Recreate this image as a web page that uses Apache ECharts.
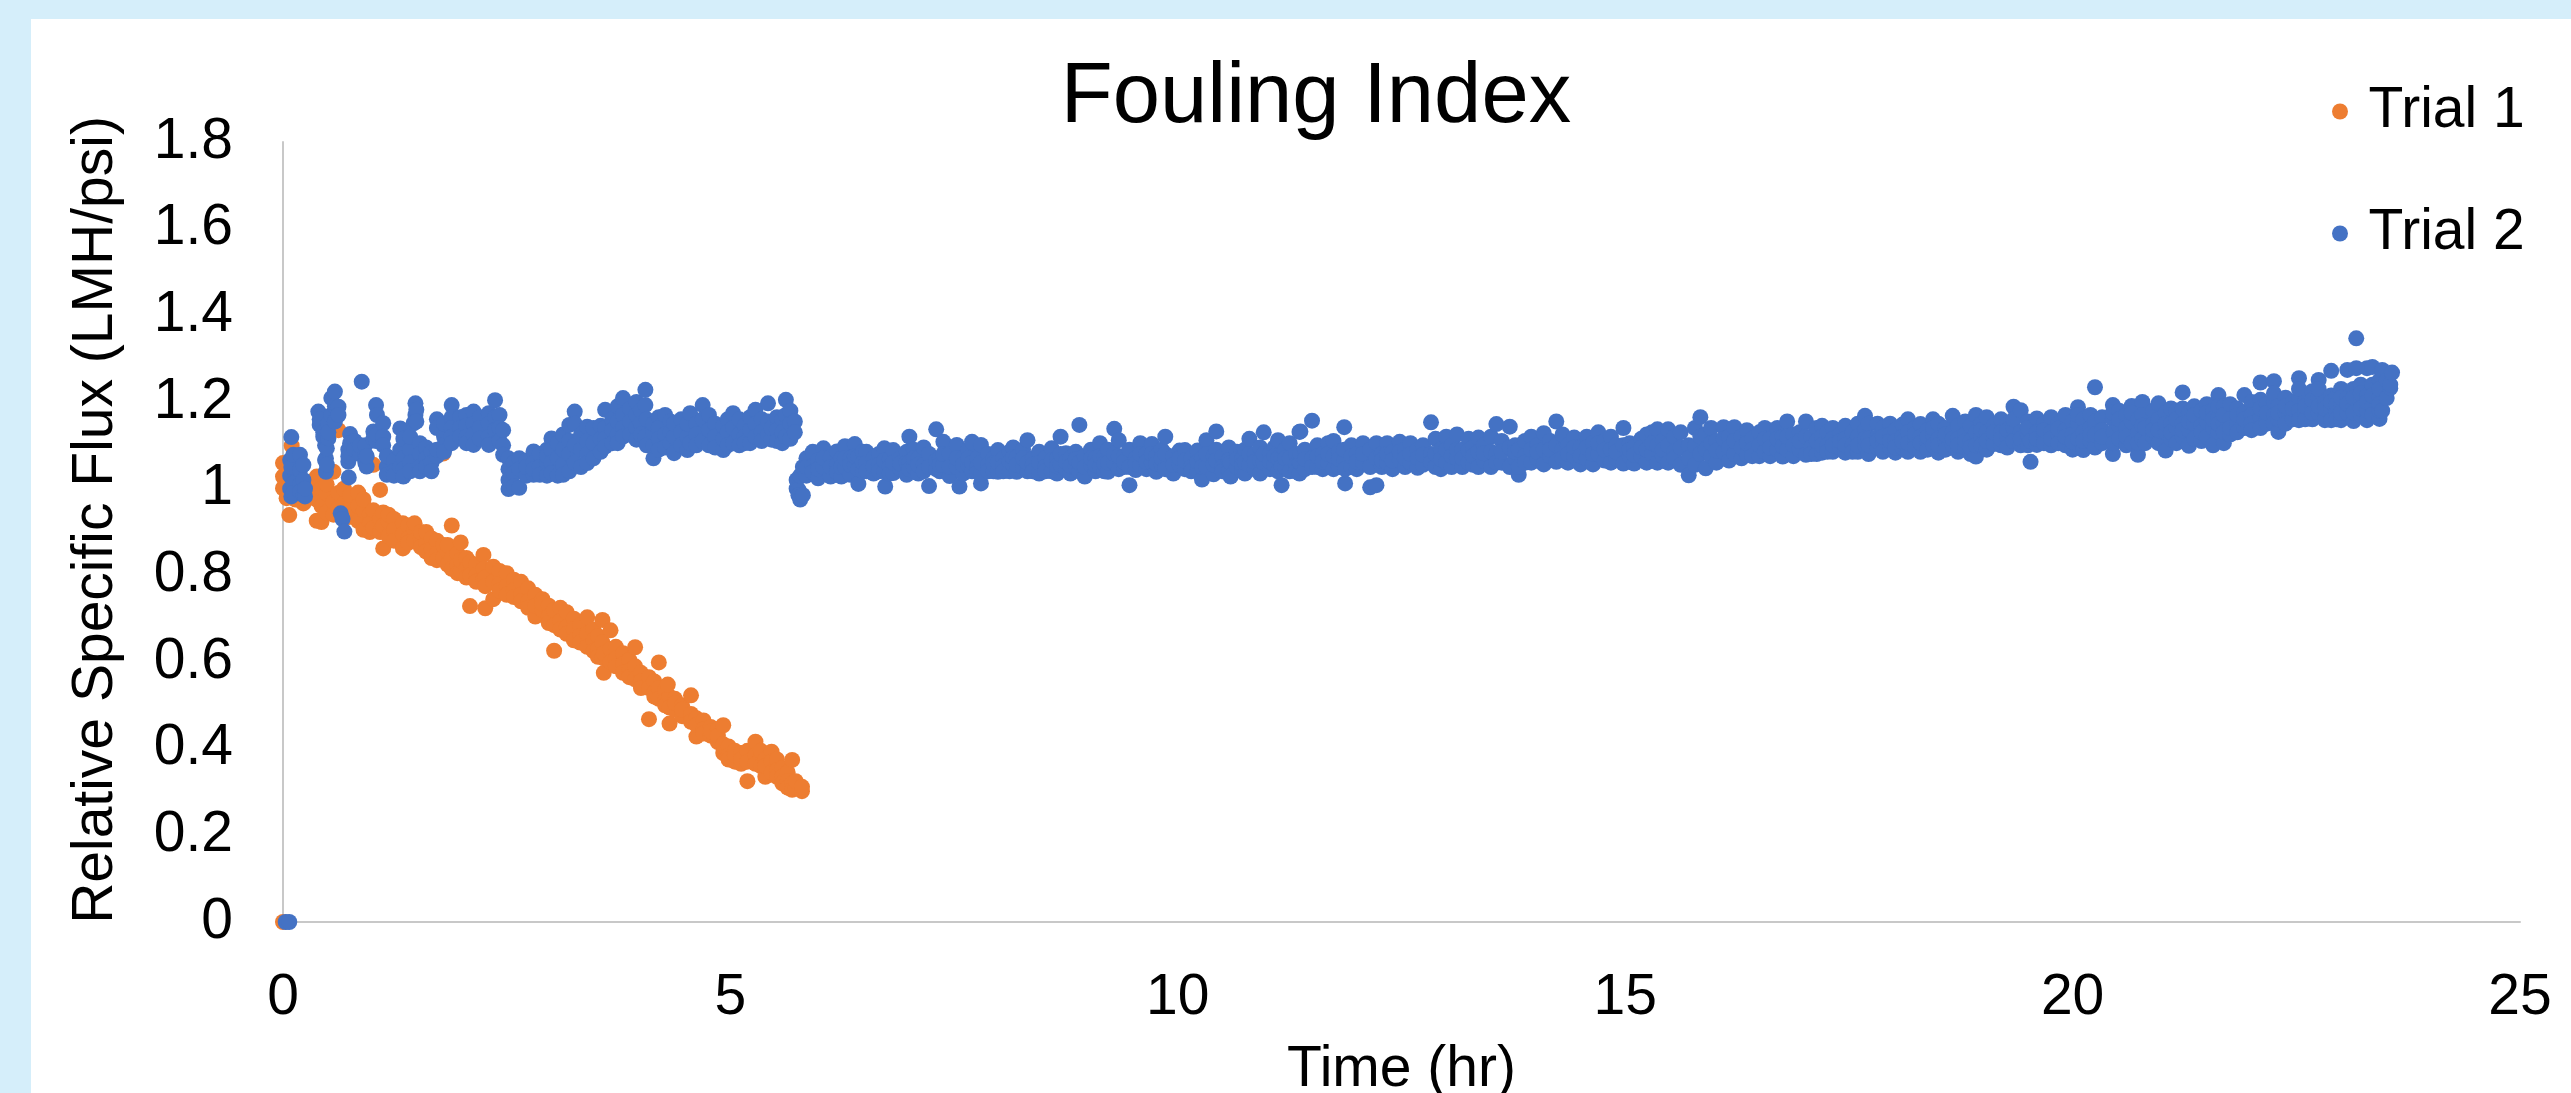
<!DOCTYPE html>
<html><head><meta charset="utf-8">
<style>html,body{margin:0;padding:0;background:#D5EEFA}#c{width:2571px;height:1093px}</style>
<script src="https://cdn.jsdelivr.net/npm/echarts@6/dist/echarts.min.js"></script>
</head><body><div id="c"></div>
<script>
const chartTitle = 'Fouling Index';
const xAxisTitle = 'Time (hr)';
const yAxisTitle = 'Relative Specific Flux (LMH/psi)';
const seriesNames = ['Trial 1', 'Trial 2'];

// Each row: time (hr), then the flux values read at that time.
const trial1Columns = [
[0,0],[0,1.059,1.028,1.001],[0.04,0.978,1.04],[0.07,0.939,1.01],[0.097,1.099,1.06],[0.14,1.0,0.975],[0.2,1.02,0.985],
[0.228,0.966,1.0],[0.3,1.01,0.98],[0.377,1.028,0.926,0.975],[0.43,0.923,1.0,0.96],[0.488,0.989,1.01,0.945],[0.563,1.039,0.97,0.94],
[0.62,1.135,0.99,0.955],[0.68,1.0,0.965,0.93],[0.75,0.958,0.985,0.935],[0.84,0.991,0.96,0.925],[0.9,0.905,0.95,0.975],
[0.97,0.94,0.92,0.9],[1.01,1.055,0.95,0.91],[1.085,0.997,0.93,0.9],[1.12,0.862,0.945,0.915],[1.18,0.925,0.89,0.94],
[1.24,0.93,0.905,0.88],[1.34,0.862,0.92,0.895],[1.4,0.915,0.885,0.875],[1.47,0.905,0.88,0.92],[1.54,0.885,0.865,0.9],
[1.6,0.875,0.9,0.855],[1.66,0.885,0.86,0.84],[1.72,0.88,0.85,0.835],[1.79,1.081,0.87,0.84],[1.84,0.855,0.825,0.87],
[1.886,0.915,0.84,0.815],[1.95,0.85,0.825,0.805],[1.986,0.876,0.81,0.835],[2.05,0.84,0.815,0.795],[2.09,0.729,0.83,0.8],
[2.16,0.825,0.8,0.785],[2.24,0.847,0.815,0.79],[2.26,0.724,0.795,0.775],[2.35,0.745,0.82,0.785],[2.42,0.81,0.78,0.765],
[2.5,0.805,0.775,0.755],[2.58,0.79,0.765,0.75],[2.66,0.785,0.755,0.74],[2.74,0.77,0.74,0.725],[2.82,0.705,0.755,0.73],
[2.9,0.745,0.72,0.735],[2.97,0.73,0.705,0.69],[3.03,0.626,0.72,0.685],[3.1,0.725,0.695,0.675],[3.17,0.715,0.68,0.665],
[3.25,0.7,0.675,0.65],[3.32,0.685,0.66,0.645],[3.4,0.703,0.665,0.635],[3.47,0.675,0.65,0.625],[3.52,0.66,0.63,0.612],
[3.57,0.697,0.645,0.61],[3.585,0.575,0.62],[3.66,0.673,0.63,0.6],[3.72,0.635,0.608,0.59],[3.8,0.62,0.595,0.575],
[3.87,0.605,0.58,0.565],[3.935,0.634,0.59,0.56],[4.0,0.575,0.555,0.54],[4.09,0.468,0.565,0.54],[4.15,0.555,0.53,0.52],
[4.2,0.599,0.54,0.515],[4.27,0.535,0.51,0.5],[4.32,0.458,0.52,0.495],[4.3,0.548],[4.38,0.515,0.49,0.505],[4.46,0.5,0.475,0.49],
[4.56,0.523,0.48,0.462],[4.62,0.428,0.47,0.455],[4.7,0.465,0.445,0.435],[4.78,0.45,0.43,0.44],[4.86,0.445,0.415,0.43],
[4.92,0.454,0.41,0.39],[4.98,0.405,0.385,0.375],[5.05,0.395,0.37,0.385],[5.12,0.39,0.365,0.375],[5.19,0.325,0.395,0.37],
[5.28,0.416,0.385,0.365],[5.34,0.38,0.36,0.395],[5.39,0.335,0.375,0.36],[5.46,0.393,0.37,0.345],[5.52,0.375,0.35,0.335],
[5.58,0.355,0.335,0.32],[5.64,0.345,0.325,0.31],[5.69,0.374,0.32,0.305],[5.73,0.31,0.325],[5.8,0.302,0.312]
];

const trial2EarlyColumns = [
[0.03,0],[0.07,0],[0.08,1.066,1.03,1.0],[0.093,1.119,1.05,0.982],[0.116,1.012,1.078,0.99],[0.19,1.078,1.043,1.01,0.993],
[0.228,1.02,1.055,0.985],[0.246,0.982,1.0],[0.395,1.178],[0.41,1.147,1.16],[0.45,1.13,1.12],[0.47,1.066,1.1],[0.48,1.039,1.07],
[0.49,1.093,1.055],[0.507,1.116,1.15,1.13],[0.54,1.209,1.17],[0.58,1.224,1.19,1.155],[0.62,1.189,1.17],[0.645,0.943],[0.665,0.93],[0.686,0.901],
[0.73,1.062,1.09,1.075],[0.735,1.026],[0.75,1.126,1.105],[0.8,1.11,1.09],[0.86,1.08,1.1],[0.88,1.247],[0.92,1.078,1.1,1.06],
[0.935,1.051,1.075],[1.01,1.132,1.115],[1.04,1.193,1.11],[1.05,1.17,1.125],[1.12,1.151,1.12,1.1],[1.16,1.05,1.032,1.075],
[1.24,1.065,1.04,1.03],[1.31,1.139,1.09,1.05],[1.345,1.07,1.045,1.028,1.115],[1.42,1.09,1.06,1.04,1.12],[1.46,1.151],[1.48,1.197,1.17],
[1.49,1.182,1.155],[1.53,1.105,1.08,1.05,1.04],[1.6,1.095,1.07,1.05],[1.66,1.085,1.06,1.04],[1.72,1.16,1.14,1.075,1.09],
[1.8,1.12,1.1,1.15,1.085],[1.885,1.193,1.165,1.14,1.12,1.105],[1.98,1.165,1.14,1.12],[2.05,1.17,1.145,1.12,1.105],
[2.13,1.178,1.15,1.125,1.101],[2.2,1.165,1.14,1.115],[2.3,1.174,1.15,1.12,1.101],[2.37,1.204,1.165,1.135],[2.42,1.17,1.14,1.11],
[2.46,1.135,1.1,1.078],[2.52,1.07,1.045,1.02,0.999],[2.58,1.06,1.035,1.005],[2.64,1.07,1.045,1.002],[2.72,1.065,1.03,1.05],
[2.8,1.086,1.06,1.032,1.045],[2.87,1.08,1.05,1.032],[2.95,1.09,1.06,1.03,1.075],[3.0,1.116,1.09,1.06,1.036],[3.07,1.105,1.07,1.03],
[3.13,1.125,1.09,1.055,1.032],[3.2,1.147,1.11,1.08,1.04],[3.26,1.178,1.15,1.1,1.06],[3.33,1.125,1.09,1.05],[3.4,1.143,1.11,1.08,1.059],
[3.47,1.14,1.105,1.07],[3.55,1.145,1.115,1.085],[3.6,1.182,1.14,1.115,1.097],[3.68,1.16,1.135,1.105],[3.74,1.19,1.155,1.125,1.105],
[3.8,1.209,1.17,1.14,1.12],[3.88,1.185,1.155,1.125],[3.95,1.2,1.17,1.14,1.113],[4.0,1.18,1.15,1.125],[4.05,1.228,1.193,1.12],
[4.065,1.16,1.1],[4.14,1.07,1.1,1.13,1.15],[4.2,1.165,1.14,1.115,1.09],[4.27,1.17,1.125,1.095],[4.33,1.155,1.13,1.105],
[4.37,1.082,1.12,1.15],[4.45,1.16,1.13,1.1],[4.52,1.089,1.12,1.15],[4.55,1.174,1.105],[4.62,1.15,1.125,1.1],[4.69,1.193,1.16,1.11],
[4.76,1.17,1.135,1.1],[4.83,1.15,1.12,1.095],[4.92,1.089,1.115,1.145],[4.97,1.16,1.13,1.1],[5.03,1.174,1.14,1.105],
[5.1,1.16,1.125,1.1],[5.16,1.145,1.12,1.105],[5.22,1.105,1.135,1.165],[5.28,1.182,1.15,1.12],[5.35,1.16,1.13,1.11],
[5.42,1.197,1.155,1.125],[5.46,1.113,1.14],[5.52,1.165,1.135,1.11],[5.58,1.16,1.13,1.105],[5.62,1.205,1.17,1.12],
[5.67,1.18,1.15,1.115],[5.72,1.155,1.13]
];

const trial2BandA = [
[5.74,1.02,1.0],[5.76,0.998,0.985],[5.78,0.975,1.03],[5.81,1.05,0.985],[5.85,1.07,1.03,1.05],[5.92,1.085,1.052,1.038],[5.98,1.065,1.024,1.045],
[6.04,1.093,1.05,1.07],[6.12,1.072,1.028,1.05],[6.19,1.086,1.055,1.038],[6.24,1.028,1.07,1.05],[6.28,1.098,1.05,1.07],[6.34,1.07,1.032,1.055],[6.39,1.103,1.055,1.075],
[6.43,1.011,1.075,1.045],[6.48,1.085,1.04,1.06],[6.52,1.085,1.06,1.04],[6.6,1.07,1.035,1.052],[6.66,1.08,1.055,1.04],[6.72,1.093,1.04,1.065],[6.73,1.005],[6.78,1.068,1.05,1.035],
[6.82,1.089,1.036,1.06],[6.9,1.07,1.045,1.058],[6.97,1.085,1.032,1.06],[7.0,1.12,1.06,1.045],[7.05,1.09,1.05,1.07],[7.1,1.07,1.035,1.055],[7.16,1.095,1.055,1.04],
[7.22,1.006,1.08,1.05],[7.3,1.137,1.045,1.065],[7.34,1.07,1.04,1.055],[7.38,1.108,1.055,1.08],[7.45,1.08,1.029,1.05],[7.53,1.101,1.05,1.07],[7.56,1.005],[7.6,1.07,1.035,1.055],
[7.66,1.09,1.055,1.07],[7.7,1.108,1.04,1.06],[7.76,1.07,1.05,1.038],[7.8,1.012,1.101,1.035,1.06],[7.88,1.08,1.055,1.04],[7.94,1.07,1.04,1.058],[7.99,1.089,1.039,1.06],[8.05,1.07,1.052,1.04],
[8.12,1.085,1.04,1.062],[8.16,1.095,1.055,1.072],[8.2,1.072,1.039,1.055],[8.27,1.09,1.05,1.07],[8.32,1.112,1.04,1.06],[8.38,1.07,1.055,1.04],[8.45,1.085,1.035,1.06],[8.52,1.07,1.05,1.04],
[8.59,1.093,1.04,1.065],[8.65,1.07,1.035,1.052],[8.69,1.12,1.055,1.08],[8.75,1.082,1.045,1.062],[8.8,1.07,1.035,1.052],[8.86,1.085,1.05,1.068],[8.9,1.147,1.04,1.06],[8.96,1.075,1.028,1.05],
[9.03,1.09,1.055,1.07],[9.08,1.07,1.04,1.055],[9.13,1.105,1.05,1.075],[9.18,1.075,1.04,1.058],[9.22,1.09,1.039,1.06],[9.29,1.138,1.06,1.08],[9.34,1.112,1.045,1.075],[9.4,1.075,1.05,1.062],
[9.46,1.008,1.09,1.05],[9.53,1.07,1.043,1.058],[9.58,1.105,1.055,1.08],[9.65,1.08,1.045,1.062],[9.71,1.103,1.06,1.08],[9.76,1.075,1.039,1.058],[9.82,1.09,1.055,1.07],[9.86,1.12,1.045,1.08],
[9.95,1.075,1.035,1.055],[10.02,1.088,1.055,1.07],[10.08,1.089,1.045,1.065],[10.15,1.07,1.05,1.04],[10.22,1.088,1.04,1.062],[10.27,1.07,1.021,1.05],[10.32,1.112,1.05,1.08],[10.4,1.075,1.033,1.055],
[10.43,1.132,1.09,1.065],[10.5,1.075,1.05,1.04],[10.57,1.095,1.04,1.065],[10.59,1.06,1.028],[10.66,1.085,1.05,1.068],[10.72,1.07,1.04,1.055],[10.75,1.09,1.035,1.06],[10.8,1.115,1.055,1.08],
[10.86,1.08,1.045,1.062],[10.92,1.095,1.035,1.065],[10.96,1.13,1.06,1.08],[11.03,1.08,1.045,1.062],[11.08,1.095,1.055,1.075],[11.12,1.112,1.04,1.07],[11.16,1.008,1.07,1.05],[11.2,1.09,1.05,1.07],
[11.25,1.105,1.04,1.07],[11.32,1.08,1.055,1.04],[11.36,1.131,1.035,1.06]
];

const trial2BandB = [
[11.37,1.132,1.06,1.08],[11.42,1.09,1.045,1.068],[11.5,1.157,1.07,1.05],[11.56,1.1,1.05,1.075],[11.62,1.08,1.045,1.062],[11.68,1.105,1.06,1.08],[11.74,1.11,1.045,1.075],[11.8,1.085,1.05,1.068],
[11.86,1.142,1.065,1.09],[11.87,1.012,1.045],[11.94,1.1,1.05,1.075],[12.0,1.08,1.045,1.062],[12.07,1.105,1.06,1.08],[12.15,1.003,1.09,1.05],[12.22,1.008,1.105,1.07],
[12.28,1.08,1.05,1.065],[12.34,1.105,1.06,1.08],[12.4,1.085,1.045,1.065],[12.48,1.108,1.065,1.085],[12.54,1.09,1.05,1.07],[12.6,1.105,1.06,1.08],[12.68,1.09,1.048,1.07],[12.74,1.1,1.055,1.078],
[12.83,1.153,1.08,1.06],[12.88,1.115,1.05,1.08],[12.94,1.09,1.045,1.068],[13.0,1.12,1.06,1.09],[13.06,1.1,1.05,1.075],[13.12,1.125,1.07,1.09],[13.18,1.09,1.05,1.07],[13.25,1.115,1.06,1.088],
[13.3,1.095,1.055,1.075],[13.36,1.118,1.05,1.085],[13.42,1.1,1.065,1.082],[13.5,1.12,1.05,1.085],[13.56,1.149,1.08,1.06],[13.62,1.11,1.06,1.085],[13.71,1.143,1.05,1.095],[13.77,1.1,1.07,1.085],
[13.81,1.032,1.05,1.09],[13.88,1.11,1.075,1.06],[13.95,1.12,1.06,1.09],[14.02,1.1,1.07,1.085],[14.09,1.128,1.056,1.09],[14.16,1.11,1.075,1.09],[14.23,1.155,1.062,1.1],[14.3,1.125,1.09,1.07],
[14.36,1.1,1.06,1.08],[14.43,1.118,1.075,1.095],[14.5,1.095,1.056,1.075],[14.57,1.12,1.07,1.095],[14.64,1.105,1.056,1.08],[14.7,1.13,1.08,1.105],[14.77,1.11,1.065,1.09],[14.84,1.12,1.06,1.09],
[14.9,1.1,1.07,1.085],[14.98,1.14,1.058,1.1],[15.05,1.105,1.075,1.09],[15.1,1.095,1.058,1.078],[15.18,1.115,1.075,1.095],[15.24,1.125,1.06,1.09],[15.3,1.13,1.08,1.105],[15.36,1.137,1.06,1.1],
[15.42,1.11,1.075,1.09],[15.48,1.137,1.06,1.1],[15.55,1.12,1.085,1.07],[15.62,1.13,1.055,1.095],[15.71,1.031,1.1,1.07],[15.78,1.14,1.055,1.098],[15.84,1.165,1.08,1.12],[15.9,1.125,1.047,1.09],
[15.96,1.14,1.075,1.105],[16.02,1.11,1.06,1.088],[16.1,1.142,1.085,1.115],[16.16,1.12,1.065,1.095],[16.22,1.142,1.08,1.11],[16.3,1.12,1.07,1.095],[16.36,1.135,1.078,1.105],[16.42,1.115,1.09,1.075],
[16.5,1.13,1.075,1.1],[16.56,1.14,1.085,1.115],[16.62,1.115,1.075,1.095],[16.7,1.14,1.09,1.115],[16.76,1.12,1.074,1.098],[16.81,1.155,1.09,1.12],[16.88,1.125,1.075,1.1],[16.95,1.13,1.09,1.11],
[17.02,1.155,1.078,1.12],[17.08,1.12,1.095,1.08],[17.14,1.14,1.08,1.11]
];

const trial2BandC = [
[17.2,1.145,1.12,1.083,1.1],[17.26,1.13,1.1,1.085],[17.32,1.14,1.115,1.085,1.1],[17.4,1.125,1.095,1.11],[17.46,1.145,1.115,1.083,1.1],[17.54,1.13,1.1,1.085],[17.6,1.15,1.12,1.085,1.1],
[17.68,1.168,1.135,1.1,1.115],[17.72,1.15,1.115,1.08,1.1],[17.82,1.15,1.12,1.095,1.11],[17.88,1.14,1.105,1.085,1.12],[17.96,1.15,1.125,1.095,1.11],[18.02,1.135,1.11,1.083,1.095],
[18.1,1.148,1.12,1.095,1.108],[18.16,1.16,1.13,1.085,1.105],[18.24,1.14,1.11,1.095,1.125],[18.3,1.149,1.12,1.085,1.105],[18.38,1.135,1.105,1.09,1.12],[18.44,1.16,1.125,1.1,1.14],
[18.5,1.15,1.115,1.083,1.1],[18.58,1.14,1.11,1.09,1.125],[18.66,1.168,1.13,1.1,1.115],[18.72,1.145,1.115,1.085,1.1],[18.8,1.155,1.125,1.095,1.11],[18.86,1.145,1.11,1.08,1.095],
[18.92,1.17,1.13,1.074,1.1],[18.98,1.15,1.12,1.1,1.135],[19.04,1.165,1.13,1.09,1.11],[19.12,1.145,1.115,1.103,1.13],[19.2,1.16,1.13,1.1,1.115],[19.27,1.15,1.12,1.095,1.135],
[19.34,1.189,1.14,1.11,1.16],[19.42,1.181,1.13,1.1,1.115],[19.5,1.155,1.125,1.1,1.14],[19.53,1.062,1.11],[19.6,1.162,1.13,1.101,1.115],[19.68,1.15,1.12,1.105,1.135],
[19.76,1.165,1.13,1.1,1.115],[19.84,1.15,1.125,1.105,1.138],[19.92,1.17,1.135,1.1,1.12],[20.0,1.155,1.125,1.09,1.108],[20.06,1.188,1.15,1.115,1.17],[20.12,1.16,1.13,1.089,1.11],
[20.2,1.17,1.14,1.11,1.125],[20.25,1.234,1.155,1.095,1.125],[20.33,1.165,1.135,1.105,1.12],[20.45,1.193,1.16,1.08,1.175],[20.46,1.13,1.105],[20.52,1.18,1.145,1.115,1.16],
[20.6,1.17,1.14,1.1,1.12],[20.66,1.191,1.155,1.105,1.175],[20.73,1.16,1.13,1.078,1.105],[20.78,1.2,1.17,1.115,1.145],[20.81,1.105,1.14],[20.9,1.18,1.15,1.12,1.135],
[20.96,1.197,1.16,1.105,1.135],[21.04,1.088,1.13,1.175,1.15],[21.1,1.185,1.15,1.115,1.13],[21.16,1.18,1.14,1.105,1.16],[21.23,1.222,1.185,1.15,1.12,1.135],[21.3,1.099,1.135,1.175,1.155],
[21.36,1.19,1.15,1.115,1.17],[21.44,1.18,1.145,1.11,1.13],[21.5,1.195,1.155,1.12,1.175],[21.57,1.18,1.14,1.1,1.16],[21.63,1.216,1.165,1.13,1.15,1.19],[21.69,1.105,1.15,1.19,1.13,1.17],
[21.76,1.195,1.16,1.125,1.14],[21.84,1.185,1.15,1.13,1.17],[21.92,1.216,1.175,1.14,1.16],[22.0,1.2,1.17,1.15,1.135],[22.1,1.245,1.205,1.165,1.14,1.185],[22.17,1.195,1.16,1.15,1.175],
[22.25,1.248,1.2,1.17,1.15,1.22],[22.3,1.131,1.16,1.19,1.175],[22.38,1.21,1.175,1.15,1.19],[22.46,1.2,1.17,1.16,1.185],[22.53,1.255,1.21,1.18,1.158,1.23],[22.6,1.2,1.175,1.16,1.19],
[22.68,1.225,1.19,1.16,1.175,1.205],[22.75,1.251,1.21,1.175,1.19,1.23],[22.82,1.2,1.17,1.158,1.185],[22.89,1.272,1.215,1.185,1.158,1.2],[22.95,1.21,1.175,1.16,1.195],[23.0,1.23,1.19,1.158,1.175,1.21],
[23.07,1.274,1.21,1.175,1.195],[23.14,1.23,1.19,1.156,1.175,1.21],[23.17,1.347,1.278],[23.22,1.24,1.2,1.17,1.185,1.22],[23.29,1.278,1.215,1.158,1.18,1.2],[23.35,1.281,1.24,1.19,1.17,1.215],
[23.43,1.25,1.21,1.161,1.18,1.195,1.23],[23.46,1.274,1.18],[23.51,1.209,1.25],[23.55,1.232,1.24],[23.57,1.268]
];

const expand = rows => rows.flatMap(([t, ...vals]) => vals.map(v => [t, v]));
const trial1Data = expand(trial1Columns);
const trial2Data = expand(trial2EarlyColumns).concat(expand(trial2BandA), expand(trial2BandB), expand(trial2BandC));

const font = '"Liberation Sans", Arial, sans-serif';
const chart = echarts.init(document.getElementById('c'));
chart.setOption({
  animation: false,
  backgroundColor: '#D5EEFA',
  graphic: [{ type: 'rect', z: -10, silent: true, shape: { x: 31, y: 19, width: 2540, height: 1074 }, style: { fill: '#FFFFFF' } }],
  title: { text: chartTitle, left: 1311, top: 51, textAlign: 'center',
    textStyle: { fontFamily: font, fontSize: 85, fontWeight: 'normal', color: '#000' } },
  legend: { orient: 'vertical', left: 2327, top: 78, itemGap: 65, itemWidth: 47, itemHeight: 16,
    data: seriesNames, textStyle: { fontFamily: font, fontSize: 57, color: '#000' } },
  grid: { left: 283, top: 142, width: 2237, height: 780, containLabel: false, outerBoundsMode: 'none' },
  xAxis: { type: 'value', min: 0, max: 25, interval: 5, name: xAxisTitle, nameLocation: 'middle', nameGap: 120,
    nameTextStyle: { fontFamily: font, fontSize: 57, color: '#000' },
    axisLine: { show: true, lineStyle: { color: '#C8C8C8', width: 2 } }, axisTick: { show: false }, splitLine: { show: false },
    axisLabel: { fontFamily: font, fontSize: 57, color: '#000', margin: 48 } },
  yAxis: { type: 'value', min: 0, max: 1.8, interval: 0.2, name: yAxisTitle, nameLocation: 'middle', nameGap: 158, nameRotate: 90,
    nameTextStyle: { fontFamily: font, fontSize: 57, color: '#000', padding: [0, 0, 0, 24] },
    axisLine: { show: true, lineStyle: { color: '#C8C8C8', width: 2 } }, axisTick: { show: false }, splitLine: { show: false },
    axisLabel: { fontFamily: font, fontSize: 57, color: '#000', margin: 50, padding: [6, 0, 0, 0] } },
  series: [
    { name: seriesNames[0], type: 'scatter', symbol: 'circle', symbolSize: 16, itemStyle: { color: '#ED7D31', opacity: 1 }, data: trial1Data, large: false },
    { name: seriesNames[1], type: 'scatter', symbol: 'circle', symbolSize: 16, itemStyle: { color: '#4472C4', opacity: 1 }, data: trial2Data, large: false }
  ]
});
</script></body></html>
